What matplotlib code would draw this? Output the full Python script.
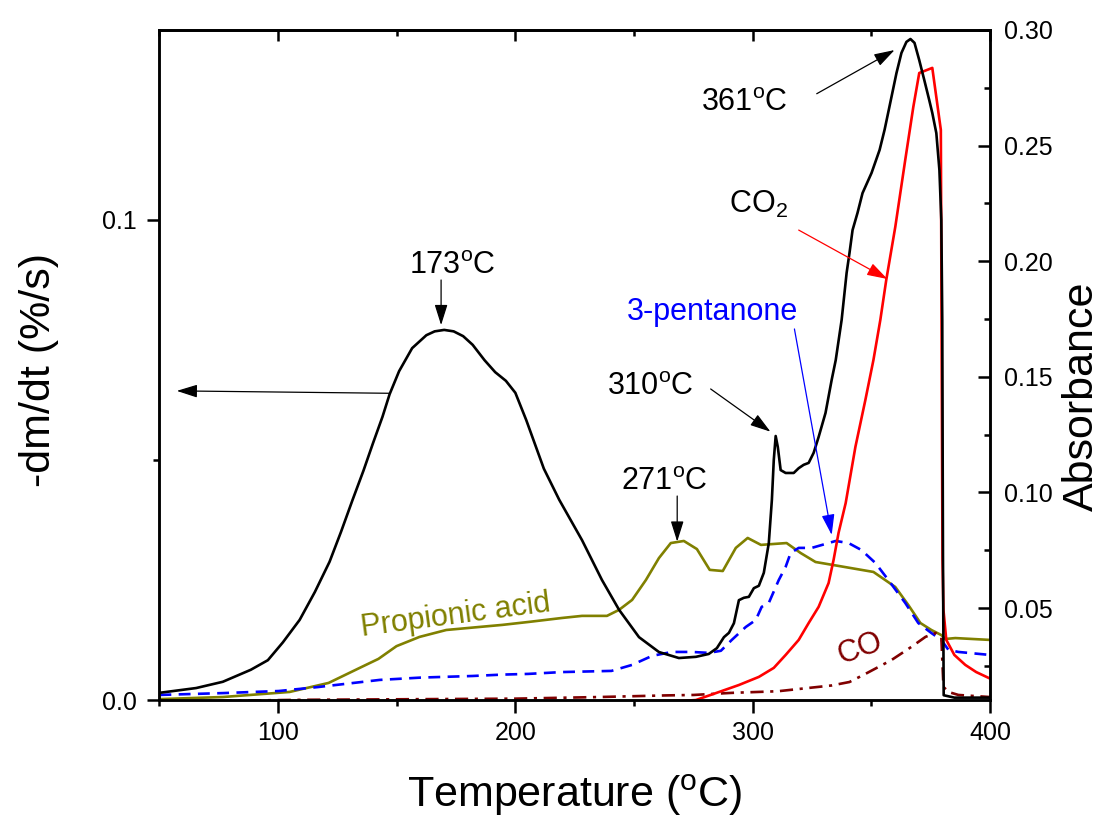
import matplotlib
matplotlib.use("Agg")
import matplotlib.pyplot as plt
from matplotlib.ticker import FixedLocator

plt.rcParams['font.family'] = ['Liberation Sans', 'DejaVu Sans']
plt.rcParams['mathtext.fontset'] = 'custom'
plt.rcParams['mathtext.rm'] = 'Liberation Sans'
plt.rcParams['mathtext.it'] = 'Liberation Sans:italic'
plt.rcParams['mathtext.bf'] = 'Liberation Sans:bold'

# ---------------- data ----------------
# DTG curve (left axis, %/s)
dtg_T = [50.0, 65.5, 76.7, 88.5, 95.7, 102.0, 109.1, 115.5, 121.7, 126.5, 131.4, 136.0,
         140.0, 144.0, 147.0, 151.0,
         156.5, 162.5, 166.0, 170.0, 174.0, 178.0, 182.0, 187.0, 191.5, 196.0, 200.0,
         204.6, 212.0, 218.5, 228.1, 236.5, 243.7, 252.1, 260.5, 268.9, 276.1, 281.5,
         284.9, 287.9, 290.0, 292.1, 294.2, 296.3, 298.4, 300.5, 302.6, 304.7, 306.8,
         308.1, 308.9, 309.7, 310.6, 311.8, 313.9, 317.3, 319.4, 321.5, 323.6, 325.7,
         327.8, 330.7, 333.3, 335.0, 337.5, 339.6, 340.8, 342.1, 344.2, 346.3, 350.1,
         353.5, 355.6, 357.6, 360.6, 362.7, 364.8, 366.5, 368.2, 370.2, 372.3, 374.4,
         375.7, 377.4, 378.7, 379.5, 379.9, 380.2, 380.5, 385.0, 400.0]
dtg_v = [0.0015, 0.0025, 0.0038, 0.0063, 0.0083, 0.0120, 0.0167, 0.0225, 0.0288, 0.0350,
         0.0417, 0.0478, 0.0535, 0.0590,
         0.0637, 0.0685, 0.0733, 0.0760, 0.0768, 0.0771, 0.0768, 0.0758, 0.0740, 0.0708,
         0.0683, 0.0665, 0.0640, 0.0583, 0.0482, 0.0417, 0.0333, 0.0250, 0.0188, 0.0131,
         0.0100, 0.00875, 0.0090, 0.0096, 0.0108, 0.0131, 0.0140, 0.0160, 0.0208, 0.0213,
         0.0215, 0.0233, 0.0238, 0.0265, 0.0327, 0.0417, 0.0500, 0.0550, 0.0527, 0.0479,
         0.0473, 0.0473, 0.0483, 0.0490, 0.0494, 0.0515, 0.0548, 0.0598, 0.0667, 0.0708,
         0.0792, 0.0890, 0.0931, 0.0979, 0.1015, 0.1056, 0.1098, 0.1146, 0.1188, 0.1235,
         0.1306, 0.1348, 0.1371, 0.1377, 0.1369, 0.1333, 0.1292, 0.1250, 0.1223, 0.1181,
         0.1104, 0.1000, 0.0792, 0.0300, 0.0010, 0.0005, 0.0005]

# CO2 absorbance (right axis)
co2_T = [50.0, 150.0, 250.0, 270.0, 276.1, 284.5, 294.2, 302.6, 308.9, 313.9, 319.4, 323.6,
         327.8, 332.0, 334.1, 336.2, 339.2, 343.3, 347.5, 350.9, 353.8, 356.3, 360.1,
         364.3, 367.7, 370.2, 375.7, 379.3, 379.6, 380.0, 380.4, 381.6, 385.0, 389.6,
         394.2, 400.0]
co2_v = [0.0085, 0.0090, 0.0095, 0.0098, 0.0102, 0.0132, 0.0167, 0.0202, 0.0241, 0.0297,
         0.0362, 0.0435, 0.0505, 0.0608, 0.0708, 0.0825, 0.0954, 0.1197, 0.1400, 0.1573,
         0.1746, 0.1919, 0.2148, 0.2438, 0.2667, 0.2814, 0.2836, 0.2568, 0.1746, 0.0708,
         0.0492, 0.0362, 0.0297, 0.0254, 0.0223, 0.0195]

# 3-pentanone absorbance (right axis)
pen_T = [50.0, 76.7, 100.3, 116.7, 135.2, 142.8, 160.0, 181.9, 194.5, 205.4, 219.7, 240.5,
         249.2, 257.6, 266.0, 274.4, 281.5, 286.6, 291.2, 297.1, 301.3, 303.8, 306.8,
         311.0, 313.9, 316.0, 319.4, 324.9, 332.0, 335.0, 340.4, 345.8, 351.7, 357.2,
         364.3, 369.8, 375.3, 379.5, 382.5, 386.7, 400.0]
pen_v = [0.0124, 0.0132, 0.0141, 0.0158, 0.0180, 0.0189, 0.0199, 0.0206, 0.0212, 0.0215,
         0.0223, 0.0228, 0.0254, 0.0293, 0.0310, 0.0310, 0.0306, 0.0315, 0.0362, 0.0418,
         0.0448, 0.0505, 0.0522, 0.0621, 0.0678, 0.0738, 0.0760, 0.0760, 0.0781, 0.0790,
         0.0781, 0.0751, 0.0695, 0.0621, 0.0522, 0.0435, 0.0392, 0.0362, 0.0319, 0.0310,
         0.0297]

# Propionic acid absorbance (right axis)
pro_T = [50.0, 76.7, 104.9, 121.3, 135.2, 142.3, 149.9, 159.6, 170.9, 184.8, 194.5, 205.8,
         219.7, 228.1, 238.6, 243.7, 249.2, 255.0, 260.5, 265.5, 271.0, 276.5, 281.9,
         287.4, 292.9, 297.9, 303.5, 314.3, 320.2, 326.5, 336.2, 350.9, 360.1, 365.6,
         370.7, 375.3, 379.5, 381.2, 385.4, 400.0]
pro_v = [0.0106, 0.0115, 0.0137, 0.0176, 0.0245, 0.0280, 0.0335, 0.0375, 0.0405, 0.0418,
         0.0427, 0.0440, 0.0457, 0.0466, 0.0466, 0.0492, 0.0535, 0.0621, 0.0716, 0.0781,
         0.0790, 0.0755, 0.0665, 0.0660, 0.0760, 0.0803, 0.0773, 0.0781, 0.0738, 0.0699,
         0.0682, 0.0656, 0.0591, 0.0513, 0.0435, 0.0405, 0.0383, 0.0366, 0.0370, 0.0362]

# CO absorbance (right axis)
co_T = [50.0, 110.0, 200.0, 235.3, 263.4, 275.2, 291.2, 310.6, 333.3, 340.8, 347.5, 353.0,
        358.5, 366.9, 372.8, 377.0, 379.5, 380.4, 382.5, 386.7, 400.0]
co_v = [0.0095, 0.0103, 0.0108, 0.0115, 0.0122, 0.0124, 0.0133, 0.0140, 0.0165, 0.0180,
        0.0215, 0.0245, 0.0275, 0.0332, 0.0375, 0.0392, 0.0375, 0.0159, 0.0137, 0.0124,
        0.0115]

x_major = [100, 200, 300, 400]
x_minor = [50, 150, 250, 350]
yl_major = [0.0, 0.1]
yl_minor = [0.05]
yr_major = [0.05, 0.10, 0.15, 0.20, 0.25, 0.30]
yr_minor = [0.025, 0.075, 0.125, 0.175, 0.225, 0.275]

# ---------------- figure ----------------
fig = plt.figure(figsize=(11.04, 8.26), dpi=100)
ax = fig.add_axes([0.1444, 0.1525, 0.7523, 0.8112])
ax2 = ax.twinx()

lw = 1.9
ax2.plot(pro_T, pro_v, color='#808000', lw=lw)
ax2.plot(pen_T, pen_v, color='#0000ff', lw=lw, dashes=(4.5, 2.8))
ax2.plot(co_T, co_v, color='#800000', lw=lw, dashes=(5, 2.5, 1.2, 2.5))
ax2.plot(co2_T, co2_v, color='#ff0000', lw=lw)
ax.plot(dtg_T, dtg_v, color='black', lw=lw)

ax.set_zorder(ax2.get_zorder() + 1)
ax.patch.set_visible(False)

ax.set_xlim(50, 400)
ax.set_ylim(0, 0.13958)
ax2.set_ylim(0.0102, 0.30)

for a in (ax, ax2):
    for s in a.spines.values():
        s.set_linewidth(1.8)

ax.xaxis.set_major_locator(FixedLocator(x_major))
ax.xaxis.set_minor_locator(FixedLocator(x_minor))
ax.yaxis.set_major_locator(FixedLocator(yl_major))
ax.yaxis.set_minor_locator(FixedLocator(yl_minor))
ax.set_xticklabels([str(v) for v in x_major])
ax.set_yticklabels(['%.1f' % v for v in yl_major])
ax2.yaxis.set_major_locator(FixedLocator(yr_major))
ax2.yaxis.set_minor_locator(FixedLocator(yr_minor))
ax2.set_yticklabels(['%.2f' % v for v in yr_major])

tls = 18
ax.tick_params(axis='both', which='major', direction='out', length=9, width=1.8,
               labelsize=tls, pad=6, top=False, right=False)
ax.tick_params(axis='both', which='minor', direction='out', length=4.5, width=1.8,
               top=False, right=False)
ax.tick_params(axis='y', which='major', pad=7)
ax2.tick_params(axis='y', which='major', direction='in', length=9, width=1.8,
                labelsize=tls, pad=10)
ax2.tick_params(axis='y', which='minor', direction='in', length=4.5, width=1.8)

top = ax.secondary_xaxis('top')
top.xaxis.set_major_locator(FixedLocator(x_major))
top.xaxis.set_minor_locator(FixedLocator(x_minor))
top.tick_params(axis='x', which='major', direction='in', length=8, width=1.8, labeltop=False)
top.tick_params(axis='x', which='minor', direction='in', length=4, width=1.8)
top.spines['top'].set_linewidth(1.8)

ax.set_xlabel(r'Temperature ($^{\mathrm{o}}$C)', fontsize=31)
ax.xaxis.set_label_coords(0.5, -0.109)
ax.set_ylabel('-dm/dt (%/s)', fontsize=31)
ax.yaxis.set_label_coords(-0.121, 0.492)
ax2.set_ylabel('Absorbance', fontsize=31)
ax2.yaxis.set_label_coords(1.0865, 0.453)

# ---------------- annotations (left-axis data coords) ----------------
fs = 22
ax.text(173.5, 0.0888, r'173$^{\mathrm{o}}$C', fontsize=fs, ha='center', va='baseline')
ax.text(262.6, 0.04375, r'271$^{\mathrm{o}}$C', fontsize=fs, ha='center', va='baseline')
ax.text(256.9, 0.0635, r'310$^{\mathrm{o}}$C', fontsize=fs, ha='center', va='baseline')
ax.text(296.5, 0.1227, r'361$^{\mathrm{o}}$C', fontsize=fs, ha='center', va='baseline')
ax.text(290.0, 0.1015, r'CO$_{\mathrm{2}}$', fontsize=fs, ha='left', va='baseline')
ax.text(247.0, 0.0792, '3-pentanone', fontsize=fs, ha='left', va='baseline', color='#0000ff')
ax.text(135.6, 0.0133, 'Propionic acid', fontsize=fs, ha='left', va='baseline',
        color='#808000', rotation=7.5, rotation_mode='anchor')
ax.text(345.4, 0.0108, 'CO', fontsize=fs, ha='center', va='center',
        color='#800000', rotation=20, rotation_mode='anchor')

def arrow(tail, tip, color='black'):
    ax.annotate('', xy=tip, xytext=tail, xycoords='data', textcoords='data',
                arrowprops=dict(arrowstyle='-|>,head_length=0.7,head_width=0.22',
                                mutation_scale=18, color=color, lw=0.9,
                                shrinkA=0, shrinkB=0))

arrow((168.7, 0.0875), (168.7, 0.0781))
arrow((147.0, 0.0639), (57.3, 0.0644))
arrow((282.3, 0.0648), (307.5, 0.0559))
arrow((268.2, 0.0425), (268.2, 0.0330))
arrow((327.0, 0.1263), (359.8, 0.1354))
arrow((319.4, 0.0979), (356.8, 0.0877), color='#ff0000')
arrow((317.6, 0.0773), (333.3, 0.0344), color='#0000ff')

fig.savefig('out.png', dpi=100)
